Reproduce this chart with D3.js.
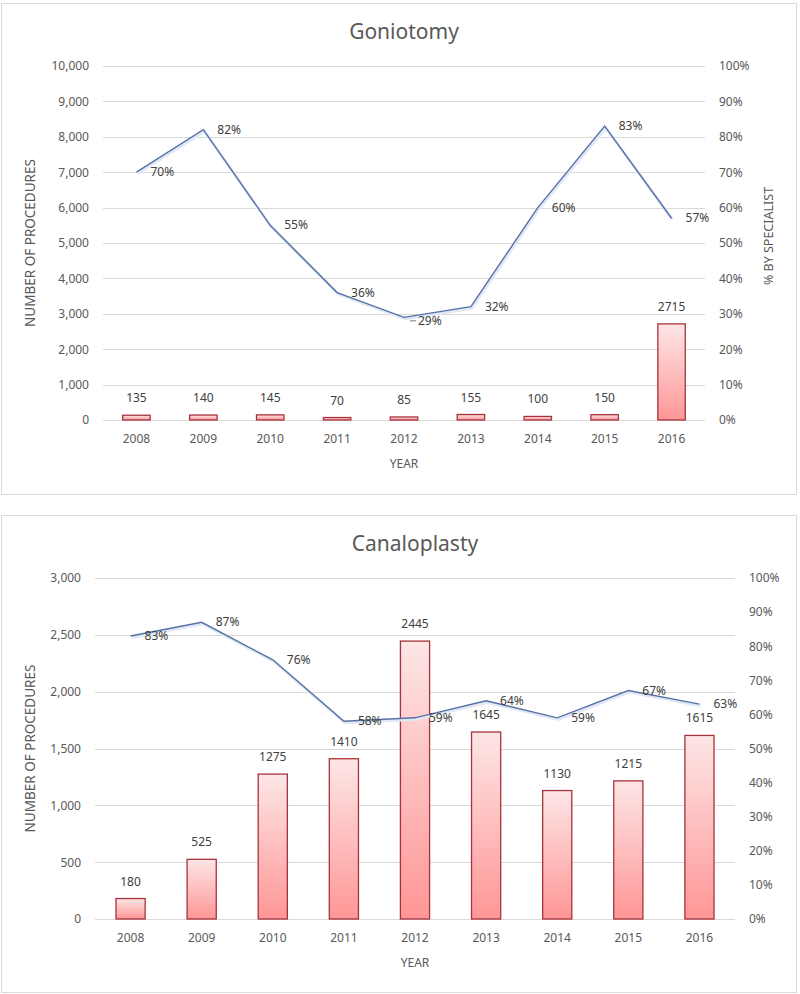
<!DOCTYPE html>
<html><head><meta charset="utf-8">
<script src="https://cdn.jsdelivr.net/npm/d3@7"></script>
<style>
body{margin:0;background:#fff;}
svg text{font-family:"Noto Sans","Open Sans",sans-serif;}
</style></head>
<body><svg id="c" width="800" height="994"></svg>
<script>
const years = ["2008","2009","2010","2011","2012","2013","2014","2015","2016"];
const gonioCounts = [135,140,145,70,85,155,100,150,2715];
const gonioPct = [70,82,55,36,29,32,60,83,57];
const canaloCounts = [180,525,1275,1410,2445,1645,1130,1215,1615];
const canaloPct = [83,87,76,58,59,64,59,67,63];
const gonioTicks = [0,1000,2000,3000,4000,5000,6000,7000,8000,9000,10000];
const canaloTicks = [0,500,1000,1500,2000,2500,3000];
const pctTicks = [0,10,20,30,40,50,60,70,80,90,100];

const svg = d3.select("#c");
const defs = svg.append("defs");
const grad = defs.append("linearGradient").attr("id","barg").attr("x1",0).attr("y1",0).attr("x2",0).attr("y2",1);
grad.append("stop").attr("offset","0%").attr("stop-color","#fde6e6");
grad.append("stop").attr("offset","100%").attr("stop-color","#ff9696");

function chart(o){
  const g = svg.append("g");
  g.append("rect").attr("x",o.box[0]+0.5).attr("y",o.box[1]+0.5).attr("width",o.box[2]).attr("height",o.box[3])
    .attr("fill","#fff").attr("stroke","#d9d9d9");
  g.append("text").attr("x",(o.left+o.right)/2).attr("y",o.titleY).attr("text-anchor","middle")
    .attr("font-size",21).attr("fill","#595959").text(o.title);
  const x = d3.scaleBand().domain(years).range([o.left,o.right]).paddingInner(0.59).paddingOuter(0.295);
  const y = d3.scaleLinear().domain([0,o.max]).range([o.bottom,o.top]);
  const yp = d3.scaleLinear().domain([0,100]).range([o.bottom,o.top]);
  g.append("g").selectAll("line").data(o.ticks).join("line")
    .attr("x1",o.left).attr("x2",o.right).attr("y1",d=>Math.round(y(d))+0.5).attr("y2",d=>Math.round(y(d))+0.5)
    .attr("stroke","#d9d9d9").attr("stroke-width",1);
  const la = g.append("g").attr("transform",`translate(${o.left},0)`)
    .call(d3.axisLeft(y).tickValues(o.ticks).tickFormat(d3.format(",")).tickSize(0).tickPadding(14));
  la.select(".domain").remove();
  la.selectAll("text").attr("font-size",12).attr("fill","#595959").style("font-family","'Noto Sans',sans-serif");
  const ra = g.append("g").attr("transform",`translate(${o.right},0)`)
    .call(d3.axisRight(yp).tickValues(pctTicks).tickFormat(d=>d+"%").tickSize(0).tickPadding(14));
  ra.select(".domain").remove();
  ra.selectAll("text").attr("font-size",12).attr("fill","#595959").style("font-family","'Noto Sans',sans-serif");
  const xa = g.append("g").attr("transform",`translate(0,${o.bottom})`)
    .call(d3.axisBottom(x).tickSize(0).tickPadding(14));
  xa.select(".domain").remove();
  xa.selectAll("text").attr("font-size",12).attr("fill","#595959").style("font-family","'Noto Sans',sans-serif");
  g.append("text").attr("x",(o.left+o.right)/2).attr("y",o.bottom+48).attr("text-anchor","middle")
    .attr("font-size",12).attr("fill","#595959").text("YEAR");
  g.append("text").attr("transform",`translate(${o.box[0]+34},${(o.top+o.bottom)/2}) rotate(-90)`)
    .attr("text-anchor","middle").attr("font-size",13.5).attr("fill","#595959").text("NUMBER OF PROCEDURES");
  if(o.rightTitle){
    g.append("text").attr("transform",`translate(${o.right+68},${(o.top+o.bottom)/2-7}) rotate(-90)`)
      .attr("text-anchor","middle").attr("font-size",12.5).attr("fill","#595959").text(o.rightTitle);
  }
  g.append("g").selectAll("rect").data(o.counts).join("rect")
    .attr("x",(d,i)=>x(years[i])).attr("width",x.bandwidth())
    .attr("y",d=>y(d)).attr("height",d=>o.bottom-y(d))
    .attr("fill","url(#barg)").attr("stroke","#a8323c").attr("stroke-width",1.3);
  const line = d3.line().x((d,i)=>x(years[i])+x.bandwidth()/2).y(d=>yp(d));
  g.append("path").datum(o.pct).attr("d",line).attr("fill","none").attr("stroke","#e1e8f5").attr("stroke-width",3)
    .attr("transform","translate(1,1.5)");
  g.append("path").datum(o.pct).attr("d",line).attr("fill","none").attr("stroke","#5671a6").attr("stroke-width",1.4);
  g.append("g").selectAll("text").data(o.counts).join("text")
    .attr("x",(d,i)=>x(years[i])+x.bandwidth()/2).attr("y",d=>y(d)-13)
    .attr("text-anchor","middle").attr("font-size",12).attr("fill","#404040").text(d=>d);
  g.append("g").selectAll("text").data(o.pct).join("text")
    .attr("x",(d,i)=>x(years[i])+x.bandwidth()/2+14+(o.dx?o.dx[i]:0)).attr("y",(d,i)=>yp(d)+4+(o.dy?o.dy[i]:0))
    .attr("font-size",12).attr("fill","#404040").text(d=>d+"%");
  if(o.leader!==undefined){
    const i=o.leader, cx=x(years[i])+x.bandwidth()/2, cy=yp(o.pct[i]);
    g.append("line").attr("x1",cx+6).attr("x2",cx+12).attr("y1",cy+3.5).attr("y2",cy+3.5).attr("stroke","#7f7f7f").attr("stroke-width",1);
  }
}

chart({box:[1,3,795,491],title:"Goniotomy",titleY:39,left:103,right:705,top:66,bottom:420,max:10000,
  ticks:gonioTicks,counts:gonioCounts,pct:gonioPct,rightTitle:"% BY SPECIALIST",
  dx:[0,0,0,0,0,0,0,0,0],dy:[0,0,0,0,4,0,0,0,0],leader:4});
chart({box:[1,515,795,477],title:"Canaloplasty",titleY:551,left:95,right:735,top:578,bottom:919,max:3000,
  ticks:canaloTicks,counts:canaloCounts,pct:canaloPct,
  dx:[0,0,0,0,0,0,0,0,0],dy:[0,0,0,0,0,0,0,0,0]});
</script></body></html>
